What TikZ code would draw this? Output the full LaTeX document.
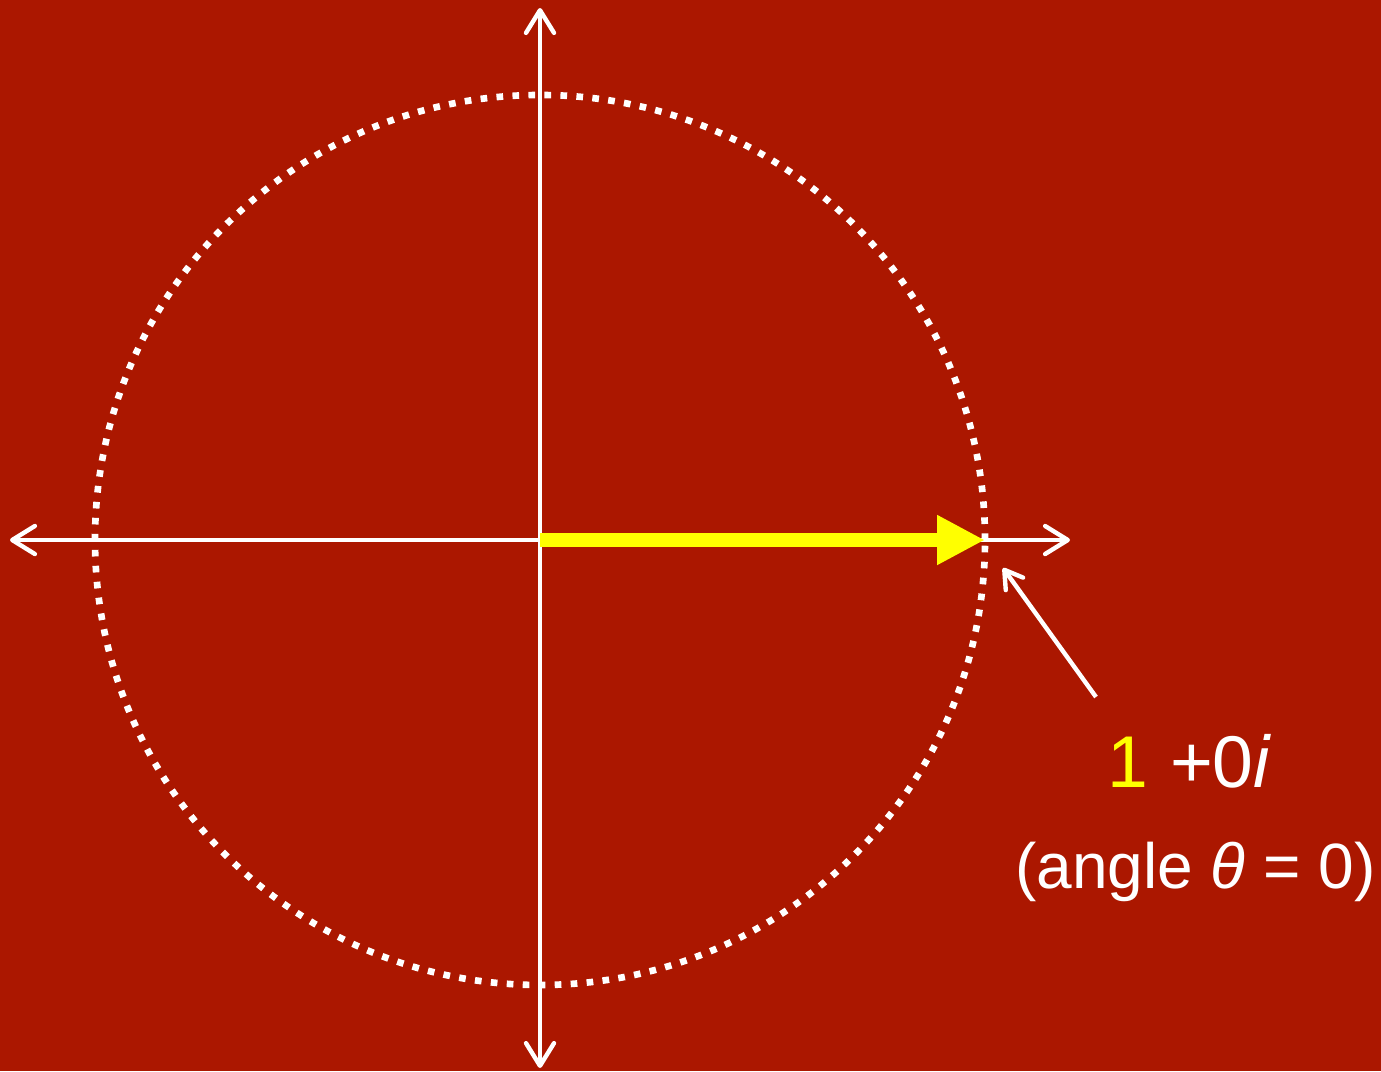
\documentclass[tikz,border=0pt]{standalone}
\usepackage{fontspec}
\setmainfont{Liberation Sans}
\usetikzlibrary{arrows.meta}
\definecolor{bgred}{RGB}{171,23,0}
\definecolor{yel}{RGB}{255,255,0}
\begin{document}
\begin{tikzpicture}[x=0.75pt,y=-0.75pt,
  axis/.style={white,line width=3.3pt,line cap=round,
    {Straight Barb[length=17pt,width=21pt,line width=3.3pt,round]}-{Straight Barb[length=17pt,width=21pt,line width=3.3pt,round]}},
  pointer/.style={white,line width=3.3pt,-{Straight Barb[length=13pt,width=16pt,line width=3.3pt,round]}},
  label/.style={text=white,inner sep=0pt,anchor=base west}]
\fill[bgred] (0,0) rectangle (1381,1071);
\useasboundingbox (0,0) rectangle (1381,1071);
\coordinate (O) at (540,540);
\coordinate (L) at (10,540);
\coordinate (R) at (1070,540);
\coordinate (T) at (540,8);
\coordinate (B) at (540,1068);
\coordinate (P) at (985,540);
\draw[white,line width=5pt,dash pattern=on 5pt off 7pt] (O) circle[radius=445*0.75pt];
\draw[axis] (L) -- (R);
\draw[axis] (T) -- (B);
\draw[yel,line width=10.5pt,-{Triangle[length=36pt,width=35pt]}] (O) -- (P);
\node[label,font=\fontsize{55}{60}\selectfont] (num) at (1107,787) {\textcolor{yel}{1}\hspace{0.3em}+0\textit{i}};
\node[label,font=\fontsize{48}{54}\selectfont] (ang) at (1015,888) {(angle \textit{θ} = 0)};
\coordinate (ps) at (1096,697);
\coordinate (pe) at (1003,568);
\draw[pointer] (ps) -- (pe);
\end{tikzpicture}
\end{document}
